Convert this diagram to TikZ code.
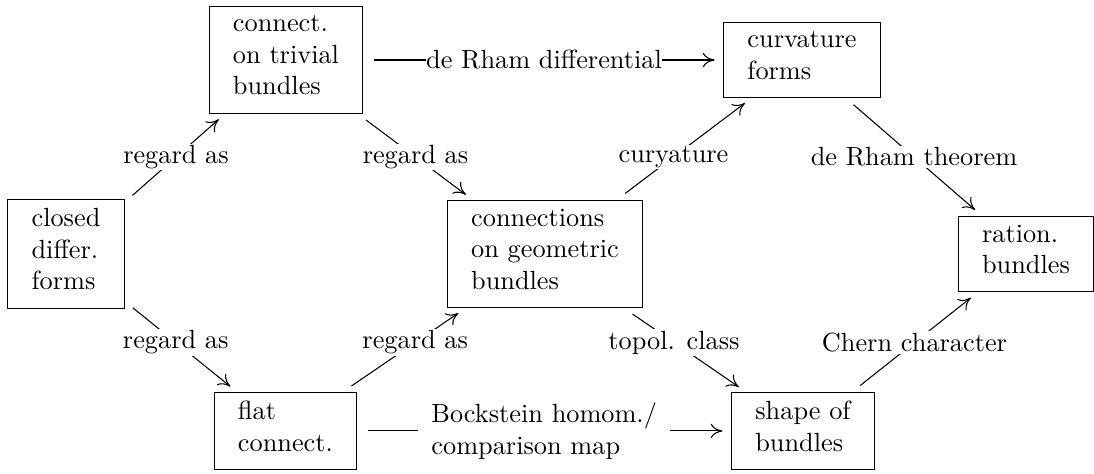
\documentclass[tikz,border=0pt]{standalone}
\usetikzlibrary{calc,arrows.meta}
\begin{document}
\begin{tikzpicture}
[box/.style={draw,align=left,inner xsep=9pt,inner ysep=3.3pt,
  execute at begin node=\strut,execute at end node=\strut},
 lbl/.style={fill=white,inner sep=0.6pt},
 arr/.style={-{To[length=4.5pt,width=5.5pt]},shorten <=4pt,shorten >=3.3pt}]
\useasboundingbox (0,0) rectangle (14.62,6.334);
\node[box] (closed) at (0.882,2.94) {closed\\differ.\\forms};
\node[box] (trivial) at (3.822,5.532) {connect.\\on trivial\\bundles};
\node[box] (curv) at (10.717,5.532) {curvature\\forms};
\node[box] (geom) at (7.283,2.94) {connections\\on geometric\\bundles};
\node[box] (ration) at (13.711,2.94) {ration.\\bundles};
\node[box] (flat) at (3.815,0.575) {flat\\connect.};
\node[box] (shape) at (10.73,0.575) {shape of\\bundles};
% labels sit half way between the centres
\draw[arr] (closed) -- (trivial) node[lbl] at ($(closed)!.5!(trivial)$) {regard as};
\draw[arr] (closed) -- (flat) node[lbl] at ($(closed)!.5!(flat)$) {regard as};
\draw[arr] (trivial) -- (geom) node[lbl] at ($(trivial)!.5!(geom)$) {regard as};
\draw[arr] (flat) -- (geom) node[lbl] at ($(flat)!.5!(geom)$) {regard as};
\draw[arr] (trivial) -- (curv) node[lbl,inner sep=0pt] at ($(trivial)!.5!(curv)$) {de Rham differential};
\draw[arr] (geom) -- (curv) node[lbl] at ($(geom)!.5!(curv)$) {curyature};
\draw[arr] (geom) -- (shape) node[lbl] at ($(geom)!.5!(shape)$) {topol. class};
\draw[arr] (curv) -- (ration) node[lbl] at ($(curv)!.5!(ration)$) {de Rham theorem};
\draw[arr] (shape) -- (ration) node[lbl] at ($(shape)!.5!(ration)$) {Chern character};
\draw[arr] (flat) -- (shape) node[lbl,align=left,inner xsep=5pt] at ($(flat)!.5!(shape)$) {Bockstein homom./\\comparison map};
\end{tikzpicture}
\end{document}
